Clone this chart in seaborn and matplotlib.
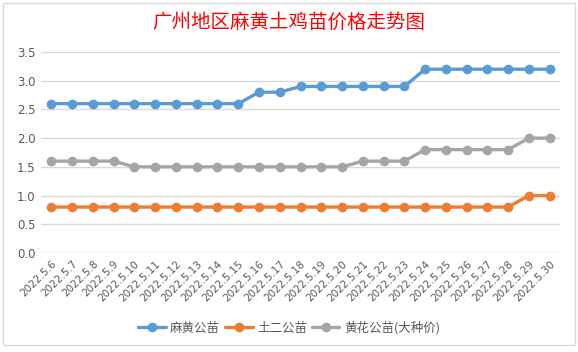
import matplotlib
matplotlib.use("Agg")
import matplotlib.pyplot as plt
import seaborn as sns
import pandas as pd
from matplotlib.patches import Rectangle

dates = ["2022.5.%d" % d for d in range(6, 31)]
mahuang = [2.6]*10 + [2.8, 2.8] + [2.9]*6 + [3.2]*7
tuer = [0.8]*23 + [1.0, 1.0]
huanghua = [1.6]*4 + [1.5]*11 + [1.6]*3 + [1.8]*5 + [2.0, 2.0]
series_names = ["麻黄公苗", "土二公苗", "黄花公苗(大种价)"]
colors = ["#5B9BD5", "#ED7D31", "#A5A5A5"]

rows = []
for name, vals in zip(series_names, [mahuang, tuer, huanghua]):
    for i, (d, v) in enumerate(zip(dates, vals)):
        rows.append({"idx": i, "date": d, "price": v, "series": name})
df = pd.DataFrame(rows)

sns.set_theme(style="white")
plt.rcParams['font.family'] = ['Noto Sans CJK SC', 'DejaVu Sans']

fig = plt.figure(figsize=(5.78, 3.52), dpi=100)
fig.patches.append(Rectangle((3/578, 7/352), 572/578, 342/352, transform=fig.transFigure,
                             fill=False, edgecolor="#D9D9D9", lw=1))
ax = fig.add_axes([41/578, 1-253/352, (560-41)/578, (253-52)/352])

sns.lineplot(data=df, x="idx", y="price", hue="series", palette=colors,
             marker="o", markersize=7, markeredgewidth=0, linewidth=2.4,
             ax=ax, legend=True)

ax.set_xlim(-0.5, len(dates) - 0.5)
ax.set_ylim(0, 3.5)
ax.set_yticks([0, 0.5, 1.0, 1.5, 2.0, 2.5, 3.0, 3.5])
ax.set_yticklabels(["%.1f" % v for v in [0, 0.5, 1.0, 1.5, 2.0, 2.5, 3.0, 3.5]],
                   fontsize=8.5, color="#595959", family="DejaVu Sans")
ax.set_xticks(range(len(dates)))
ax.set_xticklabels(dates, rotation=45, ha="right", rotation_mode="anchor",
                   fontsize=7.5, color="#595959", family="DejaVu Sans")
ax.tick_params(axis="both", length=0, pad=4)
ax.yaxis.grid(True, color="#D9D9D9", lw=1)
ax.set_axisbelow(True)
for s in ax.spines.values():
    s.set_visible(False)
ax.set_xlabel("")
ax.set_ylabel("")

fig.text(0.5, 1-22/352, "广州地区麻黄土鸡苗价格走势图", ha="center", va="center",
         fontsize=14, color="#FF0000", fontweight="medium")

handles, labels = ax.get_legend_handles_labels()
ax.get_legend().remove()
fig.legend(handles, labels, loc="center", bbox_to_anchor=(289/578, 1-328/352),
           ncol=3, frameon=False, fontsize=9, handlelength=2.2, handletextpad=0.35,
           columnspacing=0.4, labelcolor="#595959")

fig.savefig("out.png", dpi=100)
